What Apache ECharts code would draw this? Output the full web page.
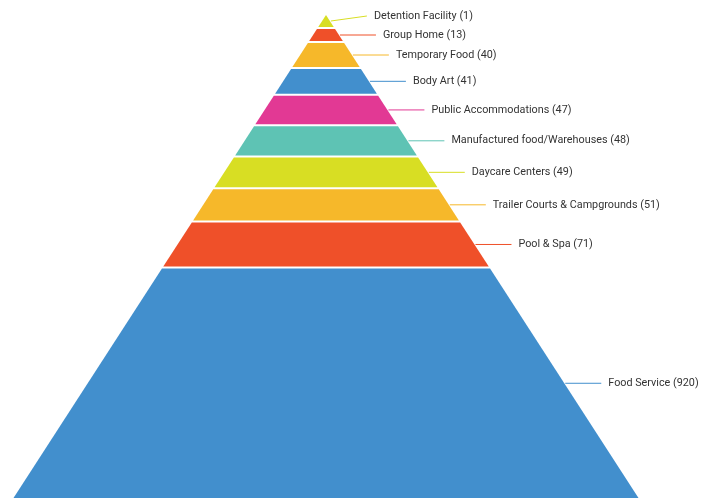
<!DOCTYPE html>
<html>
<head>
<meta charset="utf-8">
<title>Pyramid</title>
<script src="https://cdn.jsdelivr.net/npm/echarts@6.0.0/dist/echarts.min.js"></script>
<style>
  html, body { margin: 0; padding: 0; background: #fff; }
  #chart { width: 714px; height: 498px; }
</style>
</head>
<body>
<div id="chart"></div>
<script>
// data, top of the pyramid first
const categories = [
  'Detention Facility',
  'Group Home',
  'Temporary Food',
  'Body Art',
  'Public Accommodations',
  'Manufactured food/Warehouses',
  'Daycare Centers',
  'Trailer Courts & Campgrounds',
  'Pool & Spa',
  'Food Service'
]
const values = [1, 13, 40, 41, 47, 48, 49, 51, 71, 920]

const sliceColors = [
  '#d8de23', '#ef5029', '#f6b82a', '#428fcd', '#e23994',
  '#5ec3b4', '#d8de23', '#f6b82a', '#ef5029', '#428fcd'
]

// layout settings
const apexX = 326
const apexY = 15
const slope = 0.647     // half width per pixel of depth
const pxPerUnit = 0.65  // slice height per unit of value
const minSlice = 14
const gap = 2
const labelSpacing = 19

function layout(chartHeight) {
  const slices = []
  let y = apexY
  values.forEach(v => {
    const h = Math.max(minSlice, v * pxPerUnit)
    const top = y
    const bottom = y + h - gap
    const mid = (top + Math.min(bottom, chartHeight)) / 2
    slices.push({ top, bottom, mid, labelY: mid })
    y += h
  })
  // push labels up so they don't overlap
  for (let i = slices.length - 2; i >= 0; i--) {
    slices[i].labelY = Math.min(slices[i].mid, slices[i + 1].labelY - labelSpacing)
  }
  return slices
}

const halfWidth = y => slope * (y - apexY)

const chart = echarts.init(document.getElementById('chart'))

chart.setOption({
  animation: false,
  series: [{
    type: 'custom',
    coordinateSystem: 'none',
    data: values.map((v, i) => ({ name: categories[i], value: v })),
    renderItem: function (params, api) {
      const i = params.dataIndex
      const s = layout(api.getHeight())[i]
      const color = sliceColors[i]
      const wTop = halfWidth(s.top)
      const wBot = halfWidth(s.bottom)
      const edgeX = apexX + halfWidth(s.mid)
      return {
        type: 'group',
        children: [
          {
            type: 'polygon',
            shape: {
              points: [
                [apexX - wTop, s.top],
                [apexX + wTop, s.top],
                [apexX + wBot, s.bottom],
                [apexX - wBot, s.bottom]
              ]
            },
            style: { fill: color }
          },
          {
            type: 'line',
            shape: { x1: edgeX + 1, y1: s.mid, x2: edgeX + 37, y2: s.labelY },
            style: { stroke: color, lineWidth: 1 }
          },
          {
            type: 'text',
            style: {
              text: categories[i] + ' (' + api.value(0) + ')',
              x: edgeX + 44,
              y: s.labelY,
              align: 'left',
              verticalAlign: 'middle',
              fill: '#333',
              fontSize: 10.8,
              fontFamily: 'Roboto'
            }
          }
        ]
      }
    }
  }]
})
</script>
</body>
</html>
